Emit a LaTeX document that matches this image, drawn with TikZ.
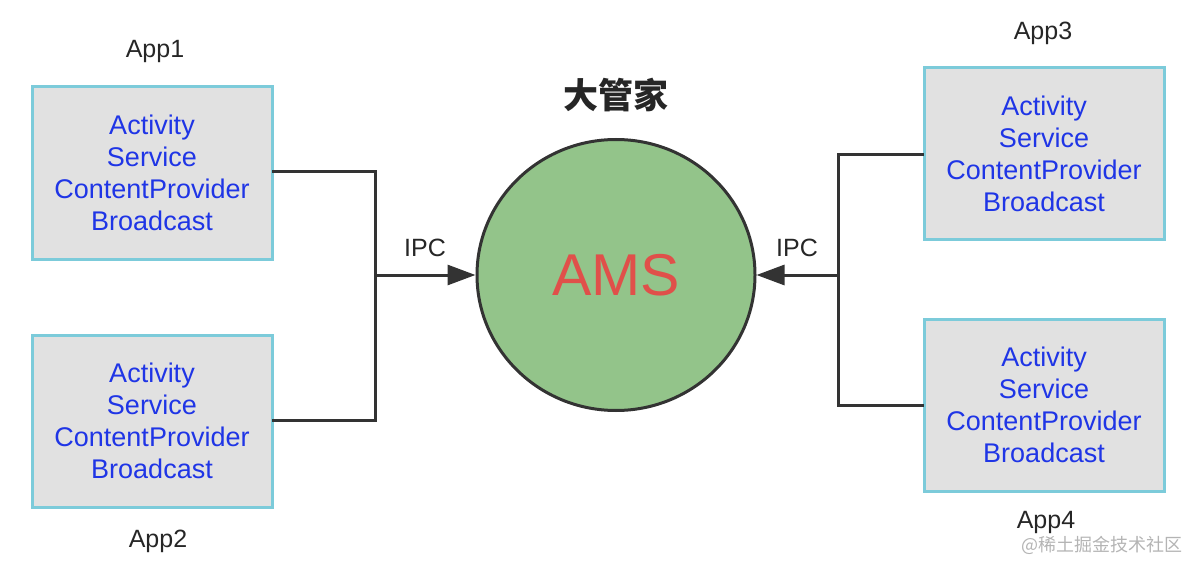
\documentclass[tikz,border=0pt]{standalone}
\usepackage{fontspec}
\setmainfont{Liberation Sans}
\newfontfamily\cjk{Noto Sans CJK SC}
\usetikzlibrary{arrows.meta,shapes.geometric}
\definecolor{boxfill}{HTML}{E1E1E1}
\definecolor{boxedge}{HTML}{7CCBDA}
\definecolor{boxtext}{HTML}{1F35E6}
\definecolor{amsfill}{HTML}{93C48A}
\definecolor{amstext}{HTML}{E0504A}
\definecolor{linec}{HTML}{333333}
\definecolor{wmark}{HTML}{B4B4B4}
\begin{document}
\begin{tikzpicture}[x=1pt,y=-1pt,
  appbox/.style={draw=boxedge,fill=boxfill,line width=3pt,minimum width=240pt,minimum height=172pt,
    inner sep=0pt,text=boxtext,align=center,font=\fontsize{27}{32}\selectfont},
  applabel/.style={text=black!85,font=\fontsize{25}{28}\selectfont},
  conn/.style={draw=linec,line width=3pt},
  arr/.style={conn,-{Triangle[length=28pt,width=20pt]}},
  ipc/.style={text=black!85,font=\fontsize{25}{28}\selectfont}]
\useasboundingbox (0,0) rectangle (1202,572);
\newcommand{\comps}{Activity\\Service\\ContentProvider\\Broadcast}
\node[appbox] (b1) at (152,173) {\comps};
\node[appbox] (b2) at (152,421) {\comps};
\node[appbox] (b3) at (1044,154) {\comps};
\node[appbox] (b4) at (1044,405) {\comps};
\node[applabel] (l1) at (155,51) {App1};
\node[applabel] (l2) at (158,541) {App2};
\node[applabel] (l3) at (1043,33) {App3};
\node[applabel] (l4) at (1046,522) {App4};
\node[ellipse,draw=linec,fill=amsfill,line width=3pt,minimum width=278pt,minimum height=271pt,inner sep=0pt,
  text=amstext,font=\fontsize{59}{62}\selectfont] (ams) at (616,275) {AMS};
\node[font=\cjk\bfseries\fontsize{35}{38}\selectfont,text=black!85] (title) at (616,95) {大管家};
\coordinate (jl) at (375,275);
\coordinate (jr) at (838,275);
\draw[conn,line cap=rect] (b1.east |- 0,172) -| (jl |- 0,172) -- (jl |- 0,420) -- (b2.east |- 0,420);
\draw[conn,line cap=rect] (b3.west |- 0,155) -| (jr |- 0,155) -- (jr |- 0,405) -- (b4.west |- 0,405);
\draw[arr] (jl) -- (ams.west);
\draw[arr] (jr) -- (ams.east);
\node[ipc] (ipcl) at (425,248) {IPC};
\node[ipc] (ipcr) at (797,248) {IPC};
\node[text=wmark,font=\cjk\fontsize{18}{20}\selectfont] (wm) at (1102,545) {@稀土掘金技术社区};
\end{tikzpicture}
\end{document}
